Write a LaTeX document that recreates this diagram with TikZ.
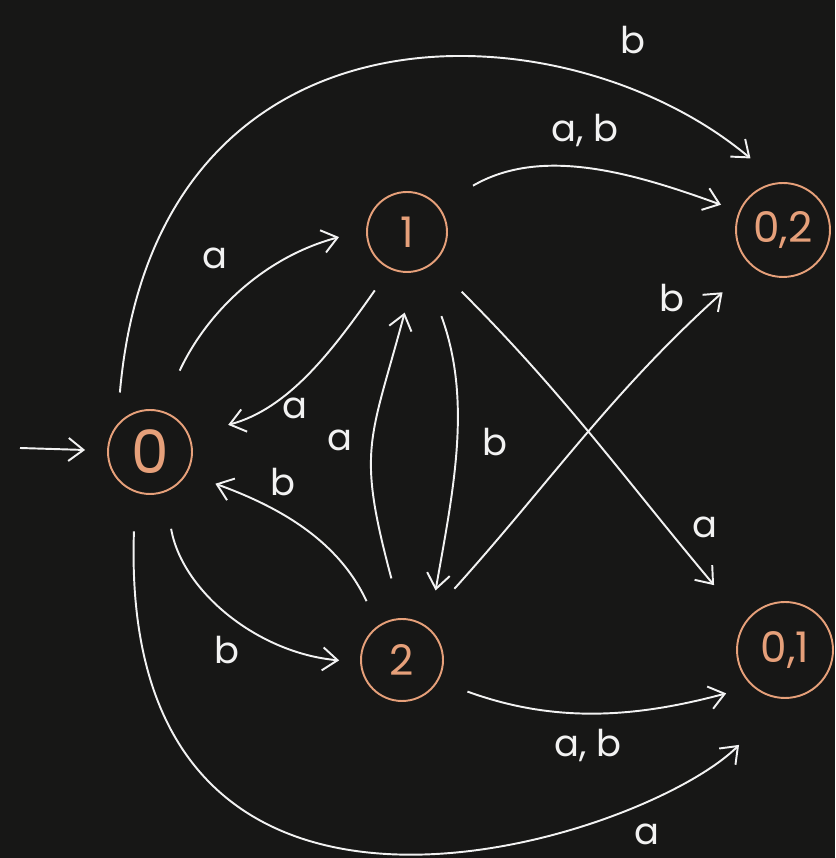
\documentclass[tikz,border=0pt]{standalone}
\usepackage{fontspec}
\setmainfont{Poppins}
\usetikzlibrary{arrows.meta}

\definecolor{board}{RGB}{23,23,22}
\definecolor{chalk}{RGB}{242,242,242}
\definecolor{peach}{RGB}{230,160,122}

\begin{document}
\begin{tikzpicture}[
x=0.02cm, y=0.02cm,
state/.style={circle, draw=peach, line width=1.1pt, text=peach, inner sep=0pt, font=\fontsize{24}{28}\selectfont},
trans/.style={draw=chalk, line width=1.1pt, -{Straight Barb[length=3mm,width=4.6mm]}},
sym/.style={text=chalk, font=\fontsize{21}{25}\selectfont}
]

\fill[board] (0,0) rectangle (835,858);
\useasboundingbox (0,0) rectangle (835,858);

\node[state, minimum size=1.68cm, font=\fontsize{34}{38}\selectfont] (q0) at (150,406) {0};
\node[state, minimum size=1.6cm] (q1) at (407,626) {1};
\node[state, minimum size=1.64cm] (q2) at (402,198) {2};
\node[state, minimum size=1.88cm] (q02) at (783,628) {0,2};
\node[state, minimum size=1.92cm] (q01) at (785,208) {0,1};

\coordinate (start) at (20,410);

\node[sym] (lb02top) at (633,818) {b};
\node[sym] (lab12) at (585,728) {a, b};
\node[sym] (la01) at (215,600) {a};
\node[sym] (la10) at (295,450) {a};
\node[sym] (la21) at (340,418) {a};
\node[sym] (lb12) at (495,416) {b};
\node[sym] (lb20) at (283,376) {b};
\node[sym] (lb02) at (227,208) {b};
\node[sym] (lb2q02) at (672,560) {b};
\node[sym] (la1q01) at (705,331) {a};
\node[sym] (lab2q01) at (588,113) {a, b};
\node[sym] (la0q01) at (647,24) {a};

\draw[trans, shorten >=0.44cm] (start) -- (q0);
\draw[trans, shorten <=0.88cm, shorten >=0.56cm] (q0.75) to[out=65, in=195] (q1.177);
\draw[trans, shorten <=0.52cm, shorten >=0.8cm] (q1.-115) to[out=235, in=15] (q0.23);
\draw[trans, shorten <=0.64cm, shorten >=0.74cm] (q0.140) to[out=85, in=140, out distance=8.8cm, in distance=5.6cm] (q02.95);
\draw[trans, shorten <=0.8cm, shorten >=0.38cm] (q1.40) to[out=30, in=160] (q02.157);
\draw[trans, shorten <=1cm, shorten >=0.76cm] (q1.-65) to[out=-70, in=80] (q2.50);
\draw[trans, shorten <=0.82cm, shorten >=0.84cm] (q2.90) to[out=105, in=255, looseness=1.3] (q1.-78);
\draw[trans, shorten <=0.54cm, shorten >=0.6cm] (q2.125) to[out=115, in=-20] (q0.-30);
\draw[trans, shorten <=0.74cm, shorten >=0.42cm] (q0.-70) to[out=-80, in=175] (q2.183);
\draw[trans, shorten <=0.8cm, shorten >=0.96cm] (q1.-50) to[out=-45, in=130] (q01.145);
\draw[trans, shorten <=0.94cm, shorten >=0.78cm] (q2.60) to[out=48, in=222] (q02.229);
\draw[trans, shorten <=0.62cm, shorten >=0.54cm] (q2.-30) to[out=-20, in=195] (q01.228);
\draw[trans, shorten <=0.78cm, shorten >=1.3cm] (q0.-110) to[out=-92, in=225, out distance=10.4cm, in distance=4cm] (q01.-90);

\end{tikzpicture}
\end{document}
